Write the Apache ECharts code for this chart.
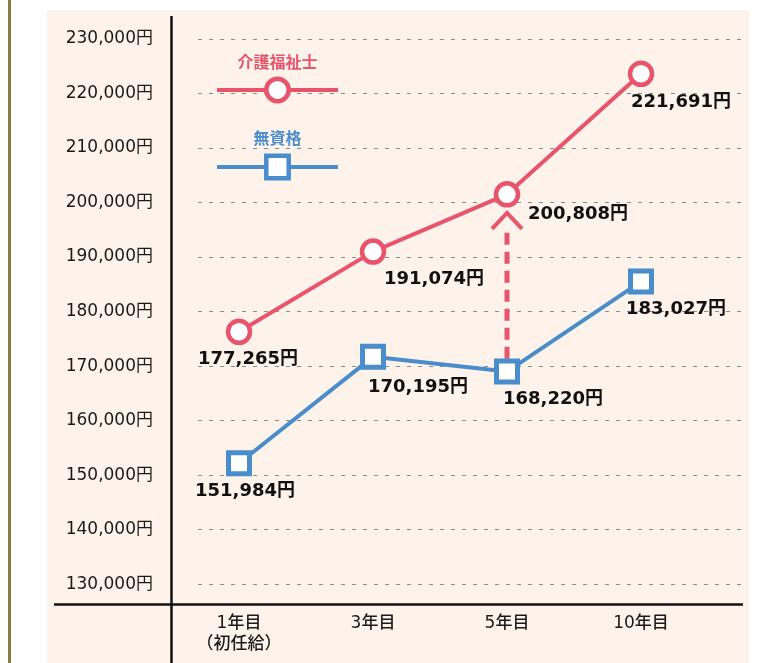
<!DOCTYPE html>
<html><head><meta charset="utf-8">
<script src="https://cdn.jsdelivr.net/npm/echarts@6/dist/echarts.min.js"></script>
<style>html,body{margin:0;padding:0;background:#fff}#c{width:782px;height:663px}</style>
</head><body><div id="c"></div>
<script>
// ---- data ----
const categories = ['1年目\n（初任給）', '3年目', '5年目', '10年目'];
const seriesNames = ['介護福祉士', '無資格'];
// point heights as drawn in the picture
const careValues = [176300, 191000, 201500, 223600];
const noLicValues = [152200, 171700, 169000, 185500];
// salary figures printed next to each point
const careSalary = [177265, 191074, 200808, 221691];
const noLicSalary = [151984, 170195, 168220, 183027];
const yTicks = [130000, 140000, 150000, 160000, 170000, 180000, 190000, 200000, 210000, 220000, 230000];
const xTicks = [0, 1, 2, 3];
const arrowIndex = 2;

// ---- style / layout ----
const RED = '#e8546c';
const BLUE = '#4a8dcc';
const careLabelOffsets = [[9, 28], [61, 28], [71, 20], [40, 29]];
const noLicLabelOffsets = [[6, 28], [45, 30], [46, 28], [35, 28]];
const gridLeft = 198, gridRight = 39, firstX = 239, stepX = 134;
const xMin = -(firstX - gridLeft) / stepX;
const xMax = 3 + ((782 - gridRight) - (firstX + 3 * stepX)) / stepX;

function yen(v) { return String(v).replace(/\B(?=(\d{3})+(?!\d))/g, ',') + '円'; }

function buildData(values, salaries, offsets) {
  return values.map((v, i) => ({
    value: [i, v],
    label: { formatter: yen(salaries[i]), offset: offsets[i] }
  }));
}

const labelStyle = {
  show: true, position: 'inside',
  fontFamily: '"DejaVu Sans", "Noto Sans CJK JP"', fontWeight: 'bold', fontSize: 18, color: '#111'
};

const chart = echarts.init(document.getElementById('c'), null, { renderer: 'canvas' });
chart.setOption({
  backgroundColor: '#ffffff',
  animation: false,
  grid: { left: gridLeft, right: gridRight, top: 16, bottom: 58 },
  xAxis: {
    type: 'value', min: xMin, max: xMax,
    axisLine: { show: false }, axisTick: { show: false, customValues: xTicks }, splitLine: { show: false },
    axisLabel: {
      customValues: xTicks,
      formatter: v => categories[Math.round(v)],
      margin: 8, fontFamily: '"DejaVu Sans", "Noto Sans CJK JP"', fontSize: 17, fontWeight: 500,
      color: '#1a1a1a', lineHeight: 21, verticalAlign: 'top'
    }
  },
  yAxis: {
    type: 'value', min: 126200, max: 234200,
    axisLine: { show: false },
    axisTick: { show: false, customValues: yTicks },
    axisLabel: {
      customValues: yTicks, formatter: v => yen(v), margin: 45,
      fontFamily: '"DejaVu Sans", "Noto Sans CJK JP"', fontSize: 17, color: '#1a1a1a'
    },
    splitLine: { show: true, lineStyle: { color: '#8a8a8a', width: 1, type: [4, 7] } }
  },
  legend: [
    { data: [seriesNames[0]], left: 210, top: 71, itemWidth: 121, itemHeight: 28, selectedMode: false,
      formatter: () => '', itemStyle: { color: '#fff', borderColor: RED, borderWidth: 4.5 }, lineStyle: { color: RED, width: 4 } },
    { data: [seriesNames[1]], left: 210, top: 148, itemWidth: 121, itemHeight: 28, selectedMode: false,
      formatter: () => '', itemStyle: { color: '#fff', borderColor: BLUE, borderWidth: 4.5 }, lineStyle: { color: BLUE, width: 4 } }
  ],
  graphic: [
    { type: 'rect', z: -100, silent: true, shape: { x: 47, y: 10, width: 702, height: 653 }, style: { fill: '#fdf3ea' } },
    { type: 'rect', z: -100, silent: true, shape: { x: 8, y: 0, width: 3, height: 663 }, style: { fill: '#8c7b48' } },
    { type: 'line', z: 50, silent: true, shape: { x1: 171.5, y1: 16, x2: 171.5, y2: 663 }, style: { stroke: '#111', lineWidth: 2.5 } },
    { type: 'line', z: 50, silent: true, shape: { x1: 54, y1: 604.5, x2: 743, y2: 604.5 }, style: { stroke: '#111', lineWidth: 2.5 } },
    { type: 'text', z: 50, silent: true, style: { x: 277.5, y: 61.5, text: seriesNames[0], fill: RED, font: 'bold 16px "Noto Sans CJK JP"', textAlign: 'center', textVerticalAlign: 'middle' } },
    { type: 'text', z: 50, silent: true, style: { x: 277.5, y: 138, text: seriesNames[1], fill: BLUE, font: 'bold 16px "Noto Sans CJK JP"', textAlign: 'center', textVerticalAlign: 'middle' } }
  ],
  series: [
    {
      type: 'custom', z: 1, silent: true,
      data: [[arrowIndex, noLicValues[arrowIndex], careValues[arrowIndex]]],
      renderItem: function (params, api) {
        const bottom = api.coord([api.value(0), api.value(1)]);
        const top = api.coord([api.value(0), api.value(2)]);
        const x = top[0];
        const tipY = top[1] + 18.5;
        return {
          type: 'group', children: [
            { type: 'line', shape: { x1: x, y1: tipY + 20, x2: x, y2: bottom[1] }, style: { stroke: RED, lineWidth: 5, lineDash: [12, 7] } },
            { type: 'polyline', shape: { points: [[x - 15, tipY + 16], [x, tipY], [x + 15, tipY + 16]] }, style: { stroke: RED, lineWidth: 4, fill: null } }
          ]
        };
      }
    },
    {
      name: seriesNames[0], type: 'line', z: 3, color: RED,
      data: buildData(careValues, careSalary, careLabelOffsets),
      symbol: 'circle', symbolSize: 22,
      lineStyle: { color: RED, width: 4 },
      itemStyle: { color: '#fff', borderColor: RED, borderWidth: 4.5 },
      label: labelStyle
    },
    {
      name: seriesNames[1], type: 'line', z: 3, color: BLUE,
      data: buildData(noLicValues, noLicSalary, noLicLabelOffsets),
      symbol: 'rect', symbolSize: 21,
      lineStyle: { color: BLUE, width: 4 },
      itemStyle: { color: '#fff', borderColor: BLUE, borderWidth: 5 },
      label: labelStyle
    }
  ]
});
</script></body></html>
